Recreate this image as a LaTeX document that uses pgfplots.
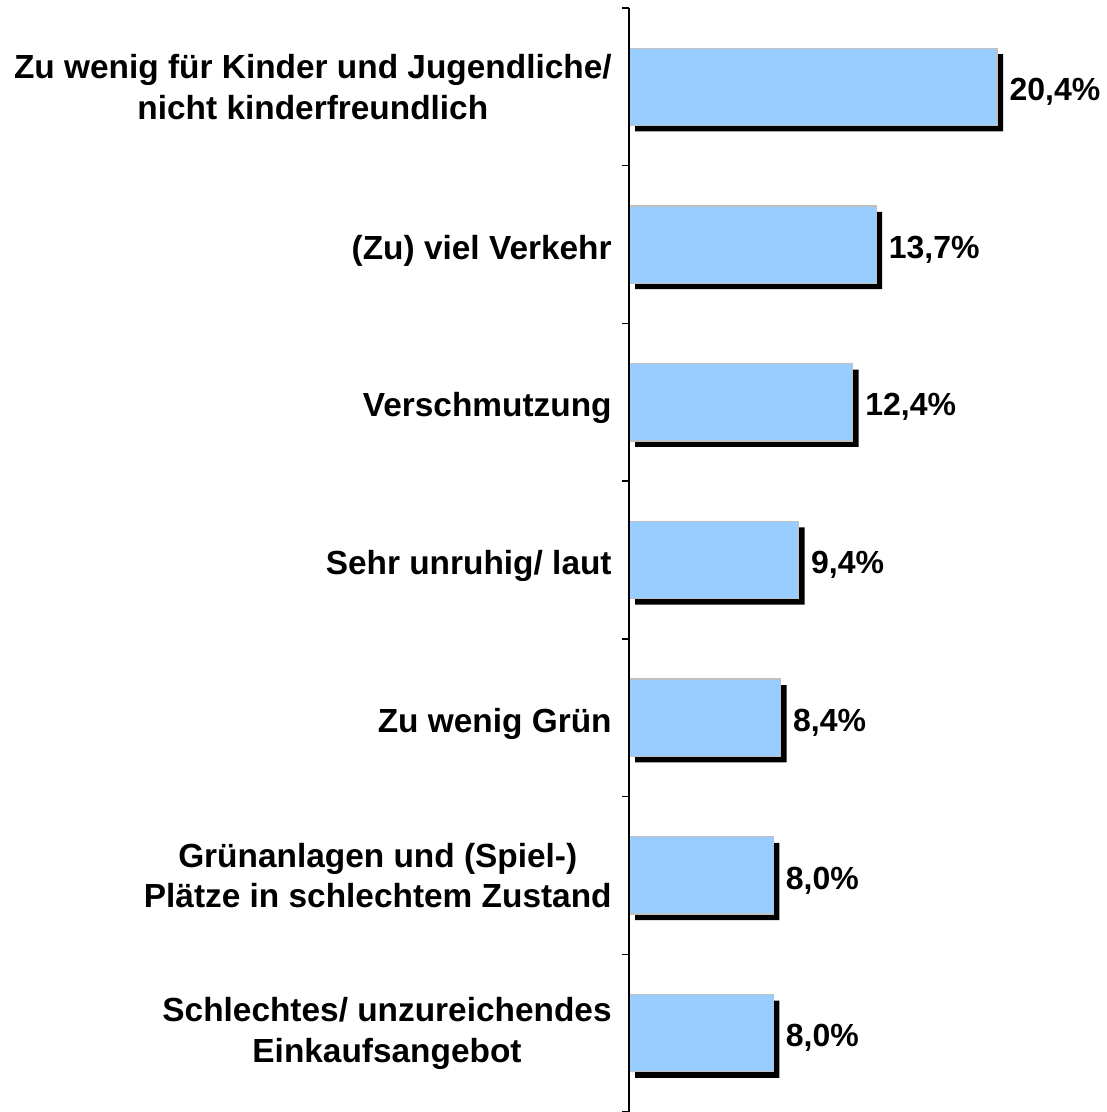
\documentclass[border=0pt]{standalone}
\usepackage{pgfplots}
\pgfplotsset{compat=1.18}
\usepackage{fontspec}
\setmainfont{Liberation Sans}
\definecolor{barblue}{HTML}{99CCFF}
\definecolor{bargray}{HTML}{C0C0C0}
\newcommand{\down}[1]{\raisebox{-3bp}[\height][\depth]{#1}}
\begin{document}
\begin{tikzpicture}
\begin{axis}[
  scale only axis,
  width=238.5bp, height=552bp,
  xmin=0, xmax=26.44,
  ymin=0.5, ymax=7.5,
  y dir=reverse,
  axis x line=none,
  axis y line*=left,
  axis line style={line width=0.75bp, black},
  axis on top,
  ytick={1,2,3,4,5,6,7},
  yticklabels={
    {Zu wenig für Kinder und Jugendliche/\\nicht kinderfreundlich},
    {\down{(Zu) viel Verkehr}},
    {\down{Verschmutzung}},
    {\down{Sehr unruhig/ laut}},
    {\down{Zu wenig Grün}},
    {Grünanlagen und (Spiel-)\\Plätze in schlechtem Zustand},
    {Schlechtes/ unzureichendes\\Einkaufsangebot}},
  minor ytick={0.5,1.5,2.5,3.5,4.5,5.5,6.5,7.5},
  major tick length=0pt,
  minor tick length=3.5bp,
  tick align=outside,
  every tick/.style={line width=0.75bp, black},
  yticklabel style={align=center, inner sep=0pt, xshift=-8.5bp,
    font=\fontsize{16.7bp}{20.3bp}\selectfont\bfseries},
]
\addplot[xbar, bar shift=0pt, bar width=0.49, fill=black, draw=none,
  xshift=3bp, yshift=-3bp, forget plot] coordinates {
  (20.4,1) (13.7,2) (12.4,3) (9.4,4) (8.4,5) (8.0,6) (8.0,7)};
\addplot[xbar, bar shift=0pt, bar width=0.49, fill=barblue, draw=bargray,
  line width=0.6bp, point meta=x,
  nodes near coords={\pgfmathprintnumber[fixed,fixed zerofill,precision=1,use comma,assume math mode=true]{\pgfplotspointmeta}\%},
  nodes near coords style={anchor=west, inner sep=0pt, xshift=6bp, yshift=-2.5bp,
    font=\fontsize{16bp}{19bp}\selectfont\bfseries, text=black}]
  coordinates {
  (20.4,1) (13.7,2) (12.4,3) (9.4,4) (8.4,5) (8.0,6) (8.0,7)};
\coordinate (O) at (rel axis cs:0,0);
\coordinate (T) at (rel axis cs:1,1);
\end{axis}
\pgfresetboundingbox
\path[use as bounding box] ([xshift=-314.5bp]O) rectangle ([yshift=4bp]T);
\end{tikzpicture}
\end{document}
